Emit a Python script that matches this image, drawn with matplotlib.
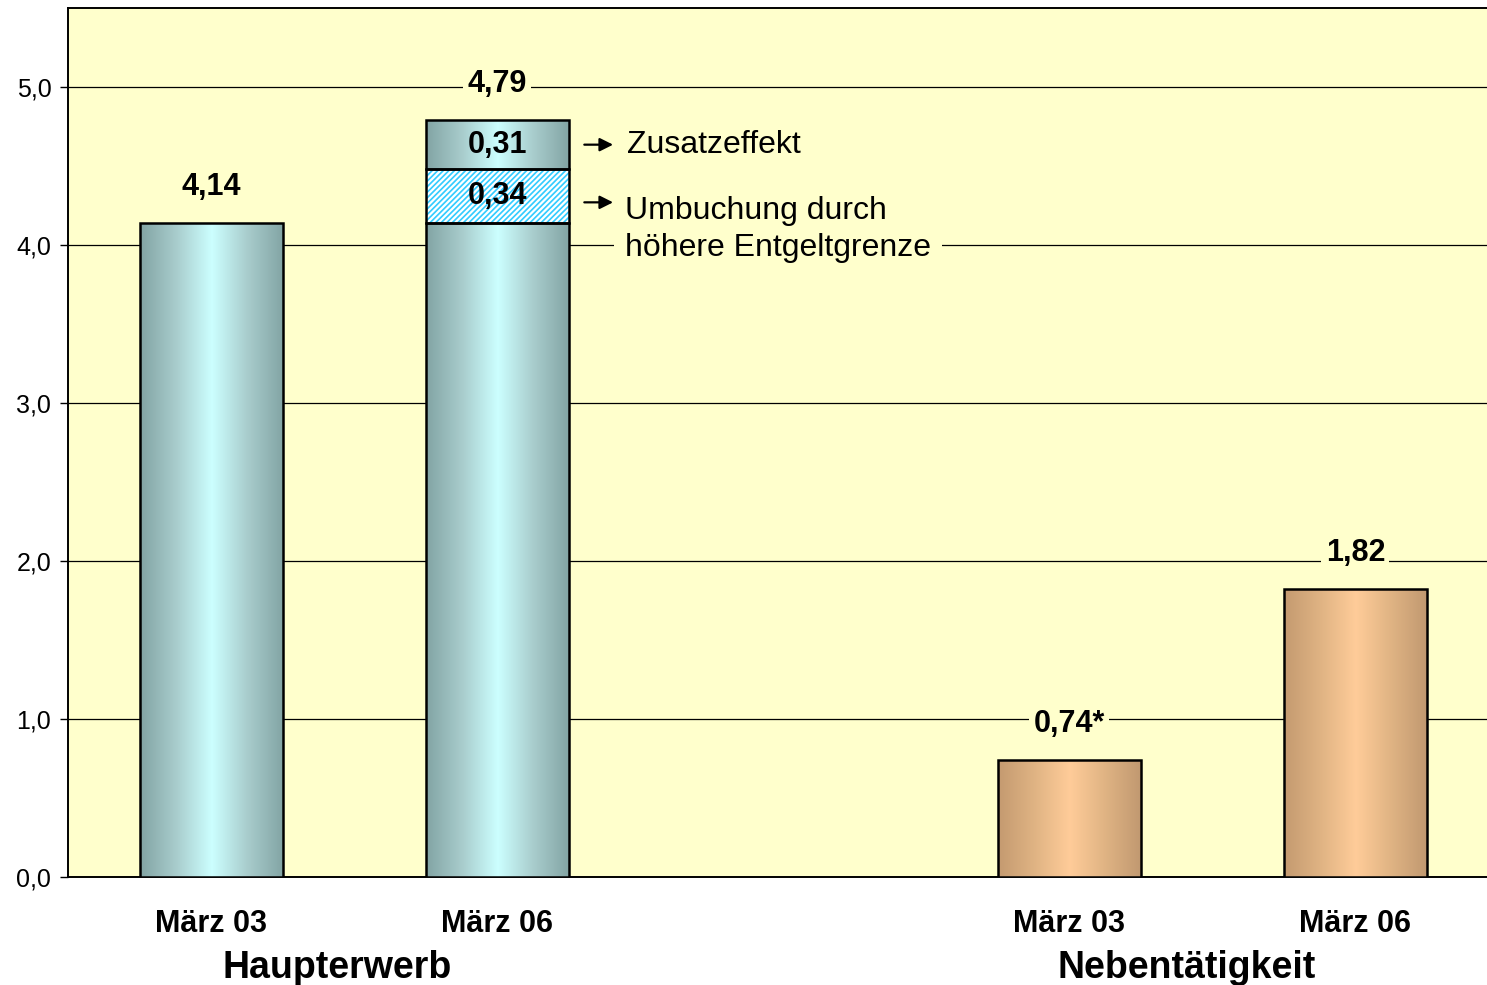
import numpy as np
import matplotlib
matplotlib.use('Agg')
import matplotlib.pyplot as plt
from matplotlib.colors import LinearSegmentedColormap
from matplotlib.patches import Rectangle
import matplotlib.transforms as mtransforms

plt.rcParams['font.family'] = ['Liberation Sans', 'DejaVu Sans']
plt.rcParams['hatch.linewidth'] = 1.6

# data
positions = [0, 1, 3, 4]
categories = ['März 03', 'März 06', 'März 03', 'März 06']
groups = ['Haupterwerb', 'Nebentätigkeit']
base_values = [4.14, 4.14, 0.74, 1.82]
totals = [4.14, 4.79, 0.74, 1.82]
value_labels = ['4,14', '4,79', '0,74*', '1,82']
umbuchung = 0.34
zusatz = 0.31
seg_labels = ['0,34', '0,31']
yticks = [0, 1, 2, 3, 4, 5]
ytick_labels = ['0,0', '1,0', '2,0', '3,0', '4,0', '5,0']

teal = LinearSegmentedColormap.from_list('teal', ['#82a4a4', '#a8cccc', '#ccffff', '#a8cccc', '#82a4a4'])
orange = LinearSegmentedColormap.from_list('orange', ['#c49a70', '#dfb383', '#ffcc99', '#dfb383', '#c09870'])
bar_cmaps = [teal, teal, orange, orange]
width = 0.5

fig = plt.figure(figsize=(14.87, 9.85), dpi=100)
ax = fig.add_axes([68 / 1487, 108 / 985, 1 - 68 / 1487, (877 - 8) / 985])
ax.set_facecolor('#ffffcc')

for y in yticks[1:]:
    ax.axhline(y, color='black', lw=0.9, zorder=1)

grad = np.linspace(0, 1, 256).reshape(1, -1)


def gradient_bar(x, bottom, height, cmap):
    rect = Rectangle((x - width / 2, bottom), width, height, facecolor='none',
                     edgecolor='black', lw=1.8, zorder=4)
    ax.add_patch(rect)
    im = ax.imshow(grad, cmap=cmap, aspect='auto', zorder=3,
                   extent=[x - width / 2, x + width / 2, bottom, bottom + height])
    im.set_clip_path(rect)


for x, v, cm in zip(positions, base_values, bar_cmaps):
    gradient_bar(x, 0, v, cm)

# stacked segments on second bar
x2 = positions[1]
ax.bar(x2, umbuchung, bottom=base_values[1], width=width, color='#33ccff',
       hatch='//////', edgecolor='white', lw=0, zorder=3)
ax.bar(x2, umbuchung, bottom=base_values[1], width=width, fill=False,
       edgecolor='black', lw=1.8, zorder=4)
gradient_bar(x2, base_values[1] + umbuchung, zusatz, teal)
ax.set_xlim(-0.5, 4.46)
ax.set_ylim(0, 5.5)
ax.set_aspect('auto')

ax.text(x2, base_values[1] + umbuchung / 2, seg_labels[0], ha='center', va='center',
        fontsize=22, fontweight='bold', zorder=5)
ax.text(x2, base_values[1] + umbuchung + zusatz / 2, seg_labels[1], ha='center', va='center',
        fontsize=22, fontweight='bold', zorder=5)

for x, t, lab in zip(positions, totals, value_labels):
    ax.annotate(lab, (x, t), xytext=(0, 26), textcoords='offset points',
                ha='center', va='center', fontsize=22, fontweight='bold', zorder=5,
                bbox=dict(facecolor='#ffffcc', edgecolor='none', pad=3))

# side annotations
arrow_kw = dict(arrowstyle='-|>', color='black', lw=1.6, mutation_scale=20)
ax.annotate('', xy=(1.415, 4.635), xytext=(1.295, 4.635), arrowprops=arrow_kw, zorder=5)
ax.annotate('', xy=(1.415, 4.27), xytext=(1.295, 4.27), arrowprops=arrow_kw, zorder=5)
ax.text(1.455, 4.635, 'Zusatzeffekt', ha='left', va='center', fontsize=23, zorder=5)
ax.text(1.448, 4.10, 'Umbuchung durch\nhöhere Entgeltgrenze', ha='left', va='center',
        fontsize=23, linespacing=1.3, zorder=5,
        bbox=dict(facecolor='#ffffcc', edgecolor='none', pad=8))

ax.set_yticks(yticks)
ax.set_yticklabels(ytick_labels, fontsize=18)
ax.tick_params(axis='y', length=6, width=1, direction='out', pad=6)
ax.set_xticks(positions)
ax.set_xticklabels(categories, fontsize=22, fontweight='bold')
ax.tick_params(axis='x', length=0, pad=23)

trans = mtransforms.blended_transform_factory(ax.transData, fig.transFigure)
ax.text(0.44, 17 / 985, groups[0], transform=trans, ha='center', va='center',
        fontsize=27, fontweight='bold')
ax.text(3.41, 17 / 985, groups[1], transform=trans, ha='center', va='center',
        fontsize=27, fontweight='bold')

for s in ['left', 'top', 'bottom']:
    ax.spines[s].set_linewidth(1.4)
ax.spines['right'].set_visible(False)

fig.savefig('out.png', dpi=100, facecolor='white')
